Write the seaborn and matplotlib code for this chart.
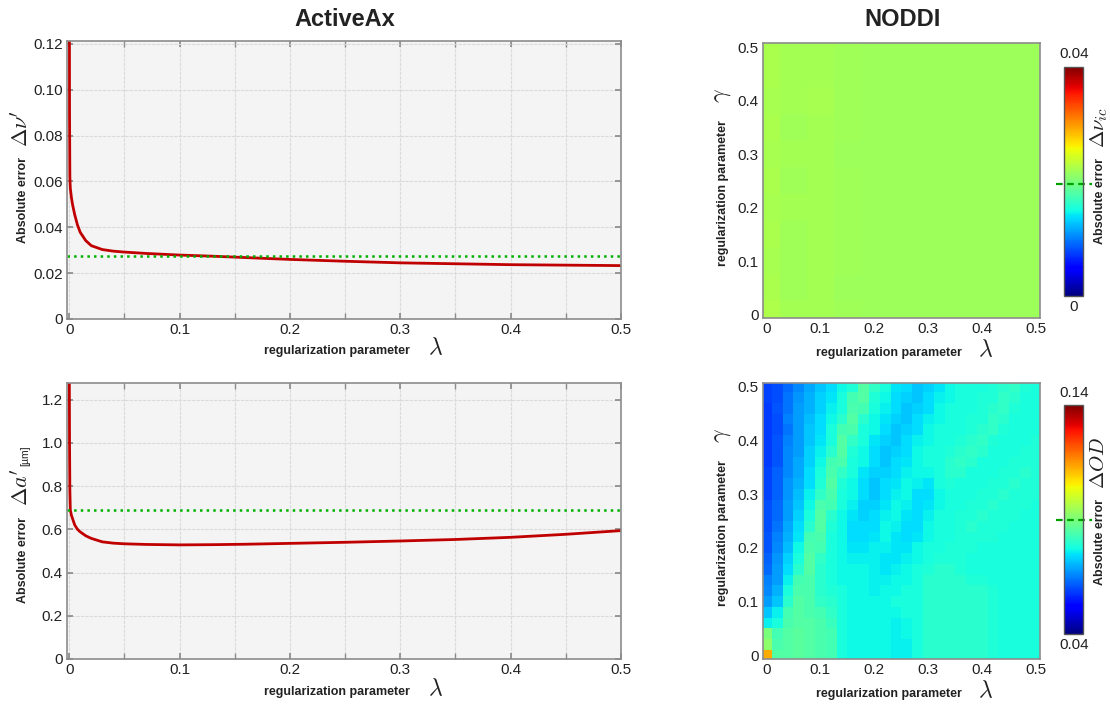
import numpy as np
import pandas as pd
import matplotlib
matplotlib.use("Agg")
import matplotlib.pyplot as plt
import seaborn as sns
from matplotlib.ticker import MultipleLocator, FuncFormatter

# ---------------- data ----------------
lam_curve = [0.0, 0.0003, 0.0006, 0.001, 0.002, 0.003, 0.005, 0.0075, 0.01, 0.015,
             0.02, 0.03, 0.04, 0.05, 0.07, 0.10, 0.13, 0.16, 0.20, 0.25,
             0.30, 0.35, 0.40, 0.45, 0.50]
err_nu = [0.20, 0.09, 0.062, 0.057, 0.053, 0.050, 0.0455, 0.041, 0.0378, 0.0342,
          0.0320, 0.0303, 0.0296, 0.0292, 0.0286, 0.0279, 0.0274, 0.0268, 0.0260, 0.0252,
          0.0245, 0.0241, 0.0237, 0.0235, 0.0233]
err_a = [1.50, 1.00, 0.78, 0.69, 0.665, 0.650, 0.620, 0.600, 0.588, 0.570,
         0.558, 0.542, 0.536, 0.533, 0.530, 0.528, 0.529, 0.531, 0.535, 0.540,
         0.546, 0.553, 0.563, 0.577, 0.594]
ref_nu = 0.0275   # NODDI reference level (dotted green)
ref_a = 0.69

# NODDI Δν_ic map (x1e-4), rows gamma 0.50 -> 0.00, cols lambda 0 -> 0.5 (step 0.05)
grid_top = [0.00, 0.05, 0.10, 0.15, 0.20, 0.25, 0.30, 0.35, 0.40, 0.45, 0.50]
dnu_map = [
    [222, 219, 220, 218, 216, 216, 216, 216, 216, 216, 216],
    [222, 219, 220, 218, 217, 216, 216, 216, 216, 216, 216],
    [221, 219, 221, 218, 216, 216, 216, 216, 216, 216, 216],
    [222, 218, 220, 218, 216, 217, 216, 216, 216, 216, 216],
    [221, 219, 220, 217, 216, 216, 216, 216, 216, 216, 216],
    [222, 218, 220, 218, 217, 216, 216, 216, 216, 216, 216],
    [221, 219, 219, 218, 216, 216, 216, 216, 216, 216, 216],
    [222, 218, 220, 218, 217, 216, 216, 216, 216, 216, 216],
    [221, 218, 219, 218, 216, 216, 216, 216, 216, 216, 216],
    [222, 218, 219, 217, 217, 216, 216, 216, 216, 216, 216],
    [224, 219, 219, 218, 216, 216, 216, 216, 216, 216, 216],
]
dnu_ref = 0.0195

# NODDI ΔOD map (x1e-3), rows gamma 0.50 -> 0.00, cols lambda 0 -> 0.5 (step 0.02)
grid_bot = [0.00, 0.02, 0.04, 0.06, 0.08, 0.10, 0.12, 0.14, 0.16, 0.18, 0.20, 0.22, 0.24,
            0.26, 0.28, 0.30, 0.32, 0.34, 0.36, 0.38, 0.40, 0.42, 0.44, 0.46, 0.48, 0.50]
dod_map = [
    [59, 60, 63, 66, 69, 72, 74, 77, 79, 85, 81, 78, 75, 74, 72, 73, 75, 77, 78, 78, 78, 79, 80, 81, 79, 78],
    [59, 60, 64, 67, 70, 73, 75, 78, 83, 85, 79, 77, 74, 73, 72, 74, 76, 77, 78, 78, 79, 79, 81, 80, 78, 78],
    [58, 61, 64, 68, 70, 73, 76, 78, 84, 83, 78, 76, 74, 72, 73, 74, 77, 78, 78, 78, 79, 80, 81, 79, 78, 78],
    [58, 60, 65, 68, 71, 74, 77, 80, 85, 80, 77, 75, 73, 72, 74, 76, 77, 78, 78, 79, 79, 81, 80, 78, 78, 78],
    [58, 60, 64, 68, 72, 74, 78, 83, 84, 78, 77, 74, 72, 73, 74, 77, 78, 78, 78, 79, 80, 81, 79, 78, 78, 78],
    [58, 61, 65, 68, 72, 75, 78, 85, 81, 78, 75, 73, 72, 74, 76, 77, 78, 78, 79, 80, 81, 79, 78, 78, 78, 79],
    [58, 61, 66, 68, 73, 76, 80, 85, 79, 77, 74, 72, 73, 74, 77, 78, 78, 79, 80, 81, 80, 78, 78, 78, 79, 79],
    [58, 61, 66, 69, 73, 77, 83, 84, 78, 77, 74, 72, 74, 75, 77, 78, 78, 80, 81, 80, 78, 78, 78, 79, 79, 79],
    [59, 62, 66, 69, 74, 78, 84, 81, 78, 75, 73, 73, 74, 76, 77, 77, 78, 80, 80, 78, 78, 78, 79, 79, 80, 79],
    [59, 62, 67, 70, 74, 79, 85, 79, 77, 74, 72, 74, 75, 77, 76, 75, 78, 79, 78, 78, 78, 79, 79, 80, 79, 79],
    [59, 62, 67, 71, 76, 81, 84, 78, 77, 74, 72, 74, 76, 77, 74, 74, 77, 78, 78, 78, 79, 79, 80, 79, 79, 79],
    [60, 63, 68, 72, 77, 84, 83, 78, 76, 73, 73, 75, 77, 76, 74, 75, 77, 78, 78, 79, 79, 80, 79, 79, 79, 78],
    [60, 63, 68, 73, 78, 85, 80, 77, 75, 73, 74, 76, 77, 75, 74, 76, 78, 78, 79, 79, 80, 79, 79, 79, 78, 78],
    [60, 64, 69, 74, 80, 85, 79, 77, 74, 74, 74, 77, 76, 74, 74, 77, 78, 78, 79, 80, 79, 79, 79, 78, 78, 78],
    [61, 65, 70, 75, 83, 84, 78, 77, 74, 74, 75, 77, 75, 74, 75, 77, 78, 78, 79, 79, 79, 79, 78, 78, 78, 78],
    [61, 66, 71, 77, 84, 83, 78, 77, 75, 75, 76, 76, 75, 75, 77, 78, 78, 79, 79, 79, 78, 78, 78, 78, 78, 78],
    [62, 67, 73, 78, 85, 81, 78, 77, 76, 76, 76, 75, 75, 76, 77, 78, 79, 79, 79, 78, 78, 78, 78, 78, 78, 78],
    [63, 68, 74, 80, 85, 80, 78, 77, 77, 77, 76, 75, 76, 77, 78, 79, 80, 80, 79, 78, 78, 78, 78, 78, 78, 78],
    [65, 68, 76, 83, 84, 80, 78, 77, 77, 77, 76, 76, 77, 77, 78, 80, 80, 80, 80, 79, 79, 78, 78, 78, 78, 78],
    [66, 70, 78, 84, 84, 80, 79, 78, 77, 77, 76, 77, 77, 78, 78, 80, 80, 80, 80, 80, 80, 79, 78, 78, 78, 78],
    [68, 72, 80, 85, 84, 81, 80, 78, 77, 77, 77, 77, 78, 78, 78, 80, 80, 80, 80, 80, 80, 79, 78, 78, 78, 78],
    [72, 76, 83, 85, 84, 83, 81, 78, 77, 77, 77, 77, 77, 78, 78, 80, 80, 80, 80, 80, 80, 79, 78, 78, 78, 78],
    [76, 78, 84, 85, 85, 84, 82, 78, 77, 77, 77, 77, 76, 77, 78, 80, 80, 80, 80, 80, 80, 79, 78, 78, 78, 78],
    [90, 83, 85, 86, 85, 84, 83, 78, 77, 77, 77, 77, 76, 77, 78, 80, 80, 80, 80, 80, 80, 79, 78, 78, 78, 78],
    [92, 84, 85, 86, 85, 84, 83, 78, 77, 77, 77, 77, 76, 76, 78, 80, 80, 80, 80, 80, 80, 79, 78, 78, 78, 78],
    [113, 85, 85, 86, 85, 84, 83, 78, 77, 77, 77, 77, 76, 76, 78, 80, 80, 80, 80, 80, 80, 79, 78, 78, 78, 78],
]
dod_ref = 0.09

tick_vals = [0.0, 0.1, 0.2, 0.3, 0.4, 0.5]

# ---------------- style ----------------
sns.set_theme(style="whitegrid")
plt.rcParams["font.family"] = ["Liberation Sans", "DejaVu Sans"]
plt.rcParams["mathtext.fontset"] = "cm"

W, H = 1110, 708
fig = plt.figure(figsize=(W / 100, H / 100), dpi=100)
fig.patch.set_facecolor("white")


def rect(l, t, r, b):
    return [l / W, 1 - b / H, (r - l) / W, (b - t) / H]


def ftext(x, y, s, **kw):
    fig.text(x / W, 1 - y / H, s, ha="center", va="center", **kw)


SPINE = "#8c8c8c"
TICKFS = 11
LINE_RED = "#c00000"
GREEN = "#00b000"


def zero_fmt(fmt):
    return FuncFormatter(lambda v, p: "0" if abs(v) < 1e-12 else fmt.format(v))


def style_line_axes(ax, ymax, ymajor, yfmt):
    ax.set_facecolor("#f4f4f4")
    ax.set_xlim(-0.002, 0.5)
    ax.set_ylim(0, ymax)
    ax.xaxis.set_major_locator(MultipleLocator(0.1))
    ax.xaxis.set_minor_locator(MultipleLocator(0.05))
    ax.yaxis.set_major_locator(MultipleLocator(ymajor))
    ax.xaxis.set_major_formatter(zero_fmt("{:.1f}"))
    ax.yaxis.set_major_formatter(zero_fmt(yfmt))
    ax.grid(True, which="both", color="#dadada", linestyle=(0, (3, 1)), linewidth=0.8)
    for s in ax.spines.values():
        s.set_visible(True)
        s.set_color(SPINE)
        s.set_linewidth(1.2)
    ax.tick_params(which="both", direction="in", top=True, right=True, length=4,
                   color=SPINE, labelsize=TICKFS, labelcolor="#222222", pad=3,
                   bottom=True, left=True)
    ax.set_xlabel("")
    ax.set_ylabel("")


# ---------------- ActiveAx curves ----------------
ax1 = fig.add_axes(rect(67, 41, 621, 319))
sns.lineplot(x=lam_curve, y=err_nu, ax=ax1, color=LINE_RED, linewidth=2.0, sort=True)
ax1.axhline(ref_nu, color=GREEN, linestyle=":", linewidth=1.8)
style_line_axes(ax1, 0.1213, 0.02, "{:.2f}")

ax2 = fig.add_axes(rect(67, 383, 621, 659))
sns.lineplot(x=lam_curve, y=err_a, ax=ax2, color=LINE_RED, linewidth=2.0, sort=True)
ax2.axhline(ref_a, color=GREEN, linestyle=":", linewidth=1.8)
style_line_axes(ax2, 1.277, 0.2, "{:.1f}")


# ---------------- NODDI heatmaps ----------------
def draw_map(ax, cax, rows, grid, scale, vmin, vmax, ref):
    df = pd.DataFrame(np.array(rows, dtype=float) * scale,
                      index=list(reversed(grid)), columns=grid)
    sns.heatmap(df, ax=ax, cmap="jet", vmin=vmin, vmax=vmax, cbar_ax=cax,
                xticklabels=False, yticklabels=False)
    n = len(grid)
    step = grid[1] - grid[0]
    pad = 0.007 / step
    ax.set_xlim(0.5 - pad, n - 0.5 + pad)
    ax.set_ylim(n - 0.5 + pad, 0.5 - pad)
    ax.set_xticks([0.5 + v / step for v in tick_vals])
    ax.set_xticklabels(["0" if v == 0 else f"{v:.1f}" for v in tick_vals])
    ax.set_yticks([n - 0.5 - v / step for v in tick_vals])
    ax.set_yticklabels(["0" if v == 0 else f"{v:.1f}" for v in tick_vals], rotation=0)
    ax.grid(False)
    for s in ax.spines.values():
        s.set_visible(True)
        s.set_color(SPINE)
        s.set_linewidth(1.2)
    ax.tick_params(direction="in", top=True, right=True, bottom=True, left=True,
                   length=4, color=SPINE, labelsize=TICKFS, labelcolor="#222222", pad=3)
    ax.set_xlabel("")
    ax.set_ylabel("")
    cax.set_yticks([])
    cax.set_xticks([])
    cb = ax.collections[0].colorbar
    cb.outline.set_visible(True)
    cb.outline.set_linewidth(1.0)
    cb.outline.set_edgecolor("#555555")
    cax.plot([-0.4, 1.45], [ref, ref], color="#00a000", linestyle=(0, (3, 2)),
             linewidth=1.6, clip_on=False)


ax3 = fig.add_axes(rect(762.7, 43.3, 1040, 318.3))
cax3 = fig.add_axes(rect(1064, 66.7, 1083, 296))
draw_map(ax3, cax3, dnu_map, grid_top, 1e-4, 0.0, 0.04, dnu_ref)

ax4 = fig.add_axes(rect(762.7, 383, 1040, 659))
cax4 = fig.add_axes(rect(1064, 405, 1083, 634))
draw_map(ax4, cax4, dod_map, grid_bot, 1e-3, 0.04, 0.14, dod_ref)

# ---------------- texts ----------------
ftext(345, 19, "ActiveAx", fontsize=17, fontweight="bold", color="#222222")
ftext(903, 19, "NODDI", fontsize=17, fontweight="bold", color="#222222")

lab = dict(fontsize=9, fontweight="bold", color="#222222")
# x labels
for yy in (351, 692):
    ftext(337, yy, "regularization parameter", **lab)
    ftext(436, yy - 3, r"$\lambda$", fontsize=17, color="#222222")
for yy in (353, 694):
    ftext(889, yy, "regularization parameter", **lab)
    ftext(986, yy - 3, r"$\lambda$", fontsize=17, color="#222222")

# y labels left
ftext(23, 200, "Absolute error", rotation=90, **lab)
ftext(22, 128, r"$\Delta\nu'$", rotation=90, fontsize=16, color="#222222")
ftext(23, 560, "Absolute error", rotation=90, **lab)
ftext(22, 487, r"$\Delta a'$", rotation=90, fontsize=16, color="#222222")
ftext(25, 456, "[µm]", rotation=90, fontsize=7.5, color="#222222")

# y labels heatmaps
ftext(723, 193, "regularization parameter", rotation=90, **lab)
ftext(722, 96, r"$\gamma$", rotation=90, fontsize=17, color="#222222")
ftext(723, 533, "regularization parameter", rotation=90, **lab)
ftext(722, 436, r"$\gamma$", rotation=90, fontsize=17, color="#222222")

# colorbar labels
ftext(1074, 54, "0.04", fontsize=TICKFS, color="#222222")
ftext(1074, 307, "0", fontsize=TICKFS, color="#222222")
ftext(1074, 393, "0.14", fontsize=TICKFS, color="#222222")
ftext(1074, 645, "0.04", fontsize=TICKFS, color="#222222")

ftext(1100, 201, "Absolute error", rotation=90, **lab)
ftext(1099, 128, r"$\Delta\nu_{ic}$", rotation=90, fontsize=15, color="#222222")
ftext(1100, 542, "Absolute error", rotation=90, **lab)
ftext(1099, 463, r"$\Delta OD$", rotation=90, fontsize=15, color="#222222")

fig.savefig("out.png", dpi=100, facecolor="white")
